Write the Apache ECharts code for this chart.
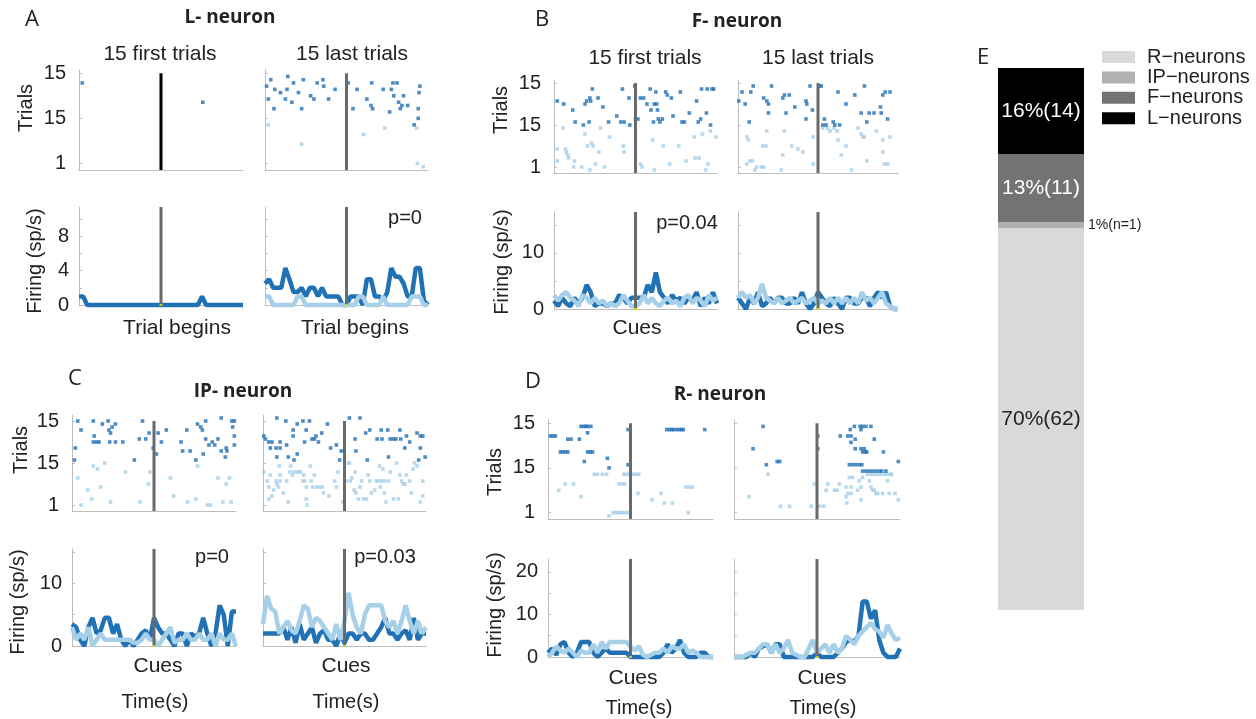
<!DOCTYPE html>
<html>
<head>
<meta charset="utf-8">
<title>Neuron classes</title>
<script src="https://cdn.jsdelivr.net/npm/echarts@6/dist/echarts.min.js"></script>
<style>
html, body { margin: 0; padding: 0; background: #fff; }
#main { width: 1256px; height: 719px; }
</style>
</head>
<body>
<div id="main"></div>
<script>
// bin centres (s) of the firing-rate curves, event at 0
const binTimes = [-1.00, -0.95, -0.90, -0.85, -0.80, -0.75, -0.70, -0.65, -0.60, -0.55,
  -0.50, -0.45, -0.40, -0.35, -0.30, -0.25, -0.20, -0.15, -0.10, -0.05,
  0.00, 0.05, 0.10, 0.15, 0.20, 0.25, 0.30, 0.35, 0.40, 0.45,
  0.50, 0.55, 0.60, 0.65, 0.70, 0.75, 0.80, 0.85, 0.90, 0.95, 1.00];

// raster tick labels (as printed in the figure)
const rasterTicks = [1, 15, 29];
const rasterTickLabels = ['1', '15', '15'];

// ---- L- neuron (A) ----
const rasterA1Dark = [[-0.96, 26], [0.51, 20]];
const rasterA1Light = [];
const rasterA2Dark = [[-0.98, 25], [-0.93, 27], [-0.96, 21], [-0.88, 24], [-0.89, 18], [-0.81, 23], [-0.75, 21], [-0.73, 24], [-0.72, 28], [-0.67, 20],
  [-0.65, 26], [-0.59, 23], [-0.55, 18], [-0.53, 27], [-0.44, 22], [-0.40, 21], [-0.36, 26], [-0.29, 27], [-0.28, 25], [-0.22, 21],
  [-0.14, 24], [0.02, 26], [0.08, 18], [0.13, 24], [0.25, 21], [0.30, 19], [0.31, 26], [0.32, 18], [0.45, 24], [0.53, 17],
  [0.55, 24], [0.57, 26], [0.58, 22], [0.62, 26], [0.64, 20], [0.66, 18], [0.68, 19], [0.70, 22], [0.75, 19], [0.83, 13],
  [0.88, 15], [0.88, 18], [0.89, 23], [0.90, 25]];
const rasterA2Light = [[-0.96, 13], [-0.55, 7], [0.21, 10], [0.47, 12], [0.86, 12], [0.87, 1], [0.94, 0]];
const rateA1Dark = [1, 1, 0, 0, 0, 0, 0, 0, 0, 0, 0, 0, 0, 0, 0, 0, 0, 0, 0, 0,
  0, 0, 0, 0, 0, 0, 0, 0, 0, 0, 1, 0, 0, 0, 0, 0, 0, 0, 0, 0, 0];
const rateA1Light = [];
const rateA2Dark = [2.5, 3.0, 2.0, 2.0, 2.0, 4.3, 3.0, 1.5, 1.5, 2.0, 1.0, 2.0, 2.0, 1.0, 2.0, 1.0, 1.0, 1.0, 1.0, 0,
  0, 1.0, 1.0, 1.0, 0, 3.0, 3.0, 1.0, 1.0, 0.5, 1.5, 4.3, 3.3, 3.3, 2.5, 1.0, 1.0, 4.3, 4.3, 0.5, 0];
const rateA2Light = [1, 1, 0, 0, 0, 0, 0, 0, 1, 1, 0, 0, 0, 0, 0, 0, 0, 0, 0, 0,
  0, 0, 0, 1, 1, 0, 0, 0, 0, 1, 0, 0, 0, 0, 0, 0, 1, 1, 1, 0, 0];

// ---- F- neuron (B) ----
const rasterB1Dark = [[-0.96, 23], [-0.88, 22], [-0.77, 20], [-0.74, 16], [-0.64, 15], [-0.62, 22], [-0.60, 23], [-0.56, 24], [-0.55, 23], [-0.53, 27],
  [-0.46, 24], [-0.57, 16], [-0.40, 21], [-0.33, 16], [-0.23, 18], [-0.18, 16], [-0.16, 27], [-0.14, 16], [-0.08, 24], [-0.07, 15],
  [-0.01, 28], [0.00, 17], [0.03, 17], [0.06, 24], [0.10, 24], [0.14, 22], [0.18, 27], [0.19, 20], [0.22, 16], [0.23, 22],
  [0.25, 26], [0.26, 22], [0.27, 20], [0.28, 17], [0.30, 16], [0.33, 17], [0.37, 26], [0.39, 25], [0.44, 24], [0.46, 18],
  [0.55, 26], [0.57, 16], [0.60, 16], [0.66, 19], [0.75, 23], [0.77, 16], [0.80, 17], [0.81, 27], [0.87, 19], [0.88, 27],
  [0.92, 15], [0.94, 27], [0.96, 27]];
const rasterB1Light = [[-0.96, 7], [-0.96, 3], [-0.89, 14], [-0.86, 7], [-0.85, 6], [-0.83, 5], [-0.82, 4], [-0.75, 3], [-0.76, 1], [-0.66, 1],
  [-0.62, 12], [-0.59, 8], [-0.54, 9], [-0.52, 8], [-0.49, 2], [-0.56, 0], [-0.45, 6], [-0.43, 14], [-0.38, 1], [-0.32, 11],
  [-0.15, 8], [-0.14, 6], [0.06, 2], [0.08, 1], [0.21, 10], [0.23, 0], [0.34, 8], [0.42, 2], [0.53, 8], [0.62, 3],
  [0.72, 11], [0.73, 4], [0.78, 4], [0.82, 12], [0.86, 0], [0.89, 2], [0.99, 11], [0.92, 13]];
const rasterB2Dark = [[-0.99, 23], [-0.95, 26], [-0.91, 22], [-0.86, 16], [-0.84, 26], [-0.81, 28], [-0.68, 24], [-0.64, 23], [-0.62, 22], [-0.62, 19],
  [-0.58, 28], [-0.44, 24], [-0.42, 25], [-0.36, 25], [-0.29, 21], [-0.40, 19], [-0.15, 23], [-0.14, 22], [-0.15, 17], [-0.10, 28],
  [-0.07, 20], [0.02, 28], [0.04, 28], [0.06, 15], [0.08, 17], [0.10, 15], [0.19, 16], [0.21, 15], [0.27, 15], [0.25, 26],
  [0.35, 22], [0.46, 25], [0.54, 19], [0.58, 28], [0.61, 16], [0.64, 19], [0.70, 19], [0.78, 21], [0.79, 19], [0.81, 25],
  [0.84, 26], [0.87, 17], [0.90, 26]];
const rasterB2Light = [[-0.89, 11], [-0.87, 10], [-0.89, 2], [-0.85, 3], [-0.82, 3], [-0.77, 1], [-0.79, 0], [-0.71, 1], [-0.68, 1], [-0.69, 8],
  [-0.65, 8], [-0.64, 13], [-0.46, 0], [-0.44, 5], [-0.42, 13], [-0.33, 8], [-0.25, 7], [-0.19, 6], [-0.06, 11], [-0.06, 2],
  [0.06, 14], [0.12, 14], [0.15, 13], [0.20, 14], [0.24, 13], [0.25, 10], [0.29, 5], [0.35, 8], [0.42, 0], [0.50, 14],
  [0.54, 12], [0.56, 11], [0.58, 11], [0.61, 3], [0.73, 13], [0.81, 10], [0.81, 6], [0.83, 2], [0.87, 2], [0.90, 11]];
const rateB1Dark = [1.5, 0.5, 2.0, 1.0, 0.5, 2.0, 1.0, 2.0, 4.3, 3.0, 0.5, 1.0, 1.0, 0.5, 1.0, 1.0, 2.5, 2.0, 1.0, 2.0,
  2.0, 2.0, 2.0, 4.3, 3.0, 6.5, 3.0, 2.0, 1.0, 2.5, 1.5, 2.0, 1.0, 2.0, 1.5, 3.0, 0.5, 2.0, 1.0, 3.0, 1.0];
const rateB1Light = [2.5, 1.5, 2.5, 3.0, 2.0, 1.5, 0.5, 2.5, 2.0, 1.0, 2.0, 1.0, 1.5, 0.5, 1.0, 0.5, 1.0, 2.5, 1.5, 0.5,
  0.5, 1.0, 2.5, 1.0, 2.0, 1.0, 0.5, 1.5, 2.0, 1.0, 1.5, 0.5, 2.0, 2.5, 1.0, 2.0, 1.5, 0.5, 2.5, 1.5, 2.0];
const rateB2Dark = [2.0, 1.0, 0.0, 2.0, 1.0, 3.0, 0.5, 1.0, 2.0, 1.0, 2.0, 2.0, 1.0, 1.0, 2.0, 1.0, 3.0, 1.0, 0.0, 1.0,
  3.0, 2.0, 1.0, 0.5, 2.0, 1.0, 0.0, 2.0, 2.0, 1.0, 1.0, 2.0, 2.0, 0.5, 2.0, 3.0, 2.0, 3.0, 0.5, 0.0, 0.0];
const rateB2Light = [2.0, 3.0, 2.0, 2.5, 1.0, 2.0, 4.5, 2.0, 1.5, 1.0, 2.0, 1.0, 1.5, 2.0, 1.0, 1.5, 2.0, 1.0, 1.5, 2.0,
  1.0, 1.5, 1.0, 2.0, 1.0, 2.0, 1.0, 2.0, 1.0, 2.0, 1.0, 3.0, 1.5, 2.0, 1.0, 2.0, 3.0, 1.0, 0.5, 0.0, 0.0];

// ---- IP- neuron (C) ----
const rasterC1Dark = [[-0.97, 16], [-0.96, 20], [-0.93, 29], [-0.89, 26], [-0.74, 29], [-0.73, 24], [-0.74, 22], [-0.70, 22], [-0.67, 22], [-0.63, 28],
  [-0.56, 29], [-0.55, 26], [-0.53, 25], [-0.51, 27], [-0.47, 28], [-0.54, 22], [-0.47, 22], [-0.38, 22], [-0.24, 16], [-0.18, 23],
  [-0.14, 29], [-0.10, 23], [-0.06, 25], [-0.01, 20], [0.03, 18], [0.05, 25], [0.09, 22], [0.15, 26], [0.33, 22], [0.35, 19],
  [0.40, 26], [0.44, 19], [0.51, 16], [0.53, 28], [0.57, 27], [0.59, 26], [0.60, 18], [0.63, 29], [0.63, 23], [0.67, 21],
  [0.71, 22], [0.74, 21], [0.78, 23], [0.82, 19], [0.82, 30], [0.87, 17], [0.88, 20], [0.89, 19], [0.95, 29], [0.98, 29],
  [0.96, 27], [0.98, 24], [0.98, 21]];
const rasterC1Light = [[-0.93, 10], [-0.89, 1], [-0.81, 6], [-0.76, 3], [-0.74, 14], [-0.69, 13], [-0.65, 7], [-0.60, 15], [-0.53, 2], [-0.35, 12],
  [-0.17, 2], [-0.07, 8], [-0.05, 12], [0.20, 10], [0.24, 4], [0.41, 2], [0.51, 3], [0.53, 14], [0.65, 1], [0.69, 1],
  [0.78, 10], [0.84, 2], [0.88, 8], [0.94, 2], [0.92, 10]];
const rasterC2Dark = [[-0.99, 24], [-0.97, 23], [-0.93, 22], [-0.91, 20], [-0.89, 22], [-0.84, 20], [-0.83, 30], [-0.83, 17], [-0.79, 20], [-0.79, 22],
  [-0.72, 29], [-0.71, 21], [-0.69, 17], [-0.63, 24], [-0.63, 26], [-0.62, 16], [-0.58, 28], [-0.58, 18], [-0.51, 29], [-0.49, 22],
  [-0.47, 26], [-0.43, 29], [-0.40, 23], [-0.37, 23], [-0.35, 24], [-0.32, 22], [-0.28, 25], [-0.21, 28], [-0.17, 20], [-0.10, 21],
  [-0.06, 16], [-0.04, 19], [0.06, 30], [0.19, 30], [0.13, 23], [0.14, 19], [0.26, 25], [0.28, 16], [0.31, 26], [0.40, 23],
  [0.45, 26], [0.46, 23], [0.53, 26], [0.54, 17], [0.56, 23], [0.60, 23], [0.63, 23], [0.68, 26], [0.69, 23], [0.74, 20],
  [0.76, 24], [0.80, 22], [0.89, 25], [0.93, 24], [0.96, 24], [0.93, 20], [0.91, 16], [0.99, 17]];
const rasterC2Light = [[-0.99, 12], [-0.95, 9], [-0.93, 7], [-0.91, 11], [-0.93, 3], [-0.89, 4], [-0.87, 6], [-0.84, 9], [-0.83, 8], [-0.81, 7],
  [-0.80, 14], [-0.79, 11], [-0.79, 9], [-0.75, 5], [-0.71, 9], [-0.69, 2], [-0.67, 12], [-0.66, 14], [-0.64, 11], [-0.62, 12],
  [-0.58, 12], [-0.56, 12], [-0.54, 12], [-0.51, 9], [-0.50, 11], [-0.49, 9], [-0.47, 7], [-0.47, 3], [-0.46, 1], [-0.42, 14],
  [-0.41, 9], [-0.39, 7], [-0.37, 11], [-0.34, 7], [-0.31, 7], [-0.27, 7], [-0.26, 5], [-0.19, 4], [-0.12, 9], [-0.10, 7],
  [-0.08, 12], [-0.02, 2], [0.02, 9], [0.05, 15], [0.06, 15], [0.07, 9], [0.09, 10], [0.12, 6], [0.13, 12], [0.14, 5],
  [0.17, 3], [0.19, 7], [0.21, 9], [0.23, 3], [0.27, 3], [0.29, 11], [0.31, 9], [0.33, 5], [0.37, 6], [0.39, 9],
  [0.41, 9], [0.43, 14], [0.44, 7], [0.45, 9], [0.47, 13], [0.49, 5], [0.49, 9], [0.51, 2], [0.54, 9], [0.56, 12],
  [0.60, 3], [0.64, 15], [0.66, 3], [0.68, 11], [0.70, 9], [0.72, 8], [0.74, 8], [0.76, 11], [0.80, 9], [0.82, 5],
  [0.84, 13], [0.86, 15], [0.89, 14], [0.93, 2], [0.96, 9], [0.96, 4]];
const rateC1Dark = [3.5, 3.0, 1.0, 0.0, 3.0, 4.5, 2.0, 2.5, 4.5, 4.5, 2.0, 3.5, 1.0, 0.0, 1.0, 0.0, 1.0, 2.0, 2.5, 1.0,
  4.5, 3.0, 2.0, 2.0, 1.0, 0.0, 2.0, 2.0, 0.0, 2.0, 1.5, 2.0, 4.5, 2.0, 0.0, 2.0, 6.5, 5.0, 0.0, 5.5, 5.5];
const rateC1Light = [3.0, 1.0, 2.0, 1.0, 3.0, 0.0, 1.0, 2.0, 1.0, 1.0, 1.0, 1.0, 1.0, 1.0, 1.0, 0.5, 0.5, 1.0, 2.0, 1.0,
  1.0, 0.0, 1.0, 2.0, 3.0, 0.5, 1.0, 1.0, 2.0, 1.0, 1.0, 2.0, 1.0, 1.0, 2.0, 0.0, 2.0, 1.0, 1.0, 2.0, 0.0];
const rateC2Dark = [2.0, 2.0, 2.0, 2.0, 2.0, 3.0, 1.0, 3.0, 0.5, 3.5, 1.0, 2.0, 3.0, 0.5, 2.0, 2.5, 1.0, 1.0, 0.0, 2.0,
  0.5, 2.0, 2.0, 1.0, 2.0, 2.0, 1.0, 1.0, 2.0, 3.0, 4.5, 2.0, 2.0, 1.0, 2.0, 2.5, 1.0, 4.5, 1.0, 2.0, 2.0];
const rateC2Light = [3.5, 8.0, 6.0, 5.5, 2.0, 3.0, 4.0, 2.5, 2.0, 4.0, 6.5, 6.0, 3.0, 4.5, 4.0, 3.0, 2.0, 1.0, 3.5, 1.0,
  4.0, 8.5, 5.0, 3.0, 2.0, 5.0, 6.5, 6.5, 6.5, 6.5, 4.0, 3.0, 4.0, 2.0, 4.0, 6.5, 4.0, 2.0, 4.0, 2.0, 3.0];

// ---- R- neuron (D) ----
const rasterD1Dark = [[-0.97, 25], [-0.94, 25], [-0.91, 25], [-0.60, 28], [-0.57, 28], [-0.54, 28], [-0.52, 28], [-0.48, 28], [-0.52, 26], [-0.76, 24],
  [-0.72, 24], [-0.62, 24], [-0.85, 20], [-0.82, 20], [-0.79, 20], [-0.76, 20], [-0.52, 20], [-0.49, 20], [-0.46, 20], [-0.56, 17],
  [-0.28, 18], [-0.26, 15], [-0.03, 27], [-0.03, 16], [0.44, 27], [0.47, 27], [0.50, 27], [0.52, 27], [0.56, 27], [0.59, 27],
  [0.62, 27], [0.64, 27], [0.90, 27]];
const rasterD1Light = [[-0.44, 13], [-0.40, 13], [-0.34, 13], [-0.29, 13], [-0.08, 13], [-0.05, 13], [-0.02, 13], [0.01, 13], [0.04, 13], [0.07, 13],
  [0.10, 13], [-0.79, 10], [-0.69, 10], [-0.14, 10], [-0.10, 10], [-0.07, 10], [-0.87, 8], [0.09, 7], [-0.60, 6], [0.37, 7],
  [0.26, 5], [0.41, 4], [0.51, 4], [0.67, 9], [0.71, 9], [0.75, 9], [0.70, 1], [-0.26, 0], [-0.21, 1], [-0.18, 1],
  [-0.15, 1], [-0.12, 1], [-0.09, 1], [-0.06, 1], [-0.03, 1]];
const rasterD2Dark = [[-0.65, 28], [-0.77, 21], [-0.61, 16], [-0.48, 17], [-0.45, 17], [0.01, 25], [0.01, 21], [0.28, 25], [0.37, 25], [0.41, 25],
  [0.40, 27], [0.41, 23], [0.45, 28], [0.46, 24], [0.46, 21], [0.52, 28], [0.55, 28], [0.59, 28], [0.53, 27], [0.65, 28],
  [0.53, 21], [0.55, 20], [0.58, 20], [0.60, 20], [0.57, 21], [0.69, 24], [0.80, 20], [0.39, 16], [0.43, 16], [0.47, 16],
  [0.51, 16], [0.54, 16], [0.55, 14], [0.59, 14], [0.63, 14], [0.67, 14], [0.71, 14], [0.75, 14], [0.78, 14], [0.83, 14],
  [0.98, 17]];
const rasterD2Light = [[-0.82, 6], [-0.59, 13], [-0.44, 3], [-0.33, 3], [-0.07, 3], [0.03, 3], [0.08, 3], [-0.03, 10], [0.13, 10], [0.11, 8],
  [0.21, 8], [0.24, 8], [0.27, 10], [0.35, 9], [0.35, 6], [0.36, 4], [0.39, 12], [0.41, 9], [0.43, 12], [0.49, 8],
  [0.51, 11], [0.53, 9], [0.53, 5], [0.55, 12], [0.61, 13], [0.63, 11], [0.65, 9], [0.67, 8], [0.69, 8], [0.71, 7],
  [0.73, 7], [0.79, 7], [0.85, 11], [0.87, 7], [0.90, 13], [0.94, 7], [0.98, 5], [0.65, 13], [0.69, 13], [0.73, 13],
  [0.77, 13], [0.81, 13], [0.85, 13], [0.89, 13], [0.37, 7], [0.41, 7]];
const rateD1Dark = [1.0, 2.0, 0.5, 3.0, 3.5, 1.0, 0.0, 1.0, 3.5, 3.5, 3.5, 1.0, 0.0, 1.0, 2.0, 1.0, 1.0, 1.0, 1.0, 1.0,
  0.0, 0.0, 0.0, 0.0, 0.0, 0.0, 0.0, 0.0, 1.0, 3.0, 1.0, 2.0, 4.0, 1.0, 0.0, 0.0, 0.0, 1.0, 1.0, 0.0, 0.0];
const rateD1Light = [0.0, 1.0, 2.5, 1.5, 1.0, 2.0, 1.0, 0.0, 1.5, 1.0, 1.0, 3.0, 1.0, 3.5, 2.0, 3.5, 3.5, 3.5, 3.5, 3.5,
  2.5, 1.5, 2.5, 0.5, 0.0, 0.5, 1.0, 1.0, 2.0, 1.0, 2.5, 2.0, 2.0, 3.0, 1.0, 1.5, 1.0, 0.0, 0.0, 0.0, 0.0];
const rateD2Dark = [0, 0, 0, 0, 1.0, 0.0, 2.0, 2.5, 3.0, 1.0, 3.0, 3.0, 0, 0, 0, 0, 0, 0, 0, 0,
  1.0, 0, 0, 0, 0, 1.0, 2.0, 3.5, 4.0, 3.5, 5.0, 13.0, 13.0, 9.0, 11.0, 4.0, 1.0, 0, 0, 0, 2.0];
const rateD2Light = [0, 0, 0, 0.5, 1.0, 1.0, 2.0, 3.0, 3.0, 1.0, 3.0, 1.0, 2.0, 4.0, 1.0, 0.5, 0, 0, 2.0, 4.0,
  1.0, 2.0, 3.0, 1.0, 3.0, 1.0, 2.0, 5.0, 4.0, 3.0, 5.0, 6.0, 7.0, 8.0, 6.5, 6.0, 4.5, 7.5, 5.5, 4.0, 4.5];

// ---- E: proportion of neuron classes ----
const neuronTypes = ['R\u2212neurons', 'IP\u2212neurons', 'F\u2212neurons', 'L\u2212neurons'];
const neuronCounts = [62, 1, 11, 14];
const neuronLabels = ['70%(62)', '1%(n=1)', '13%(11)', '16%(14)'];
const neuronColors = ['#d9d9d9', '#b1b1b1', '#737373', '#000000'];

const DARK = '#2171b5';
const LIGHT = '#a6cfe8';
const STIM = '#6a6a6a';
const AXIS = '#bdbdbd';
const INK = '#222';
const FONT = '"Liberation Sans", Arial, sans-serif';
const HEAD = '"Open Sans", sans-serif';

var grids = [], xAxes = [], yAxes = [], series = [];

function addAxes(box, yMin, yMax, labelVals, tickVals, showLabels, fontSize, margin) {
  var i = grids.length;
  grids.push({ left: box[0], top: box[1], width: box[2], height: box[3] });
  xAxes.push({
    gridIndex: i, type: 'value', min: -1, max: 1,
    axisLine: { show: true, onZero: false, lineStyle: { color: AXIS, width: 1 } },
    axisTick: { show: false }, axisLabel: { show: false }, splitLine: { show: false }
  });
  yAxes.push({
    gridIndex: i, type: 'value', min: yMin, max: yMax,
    axisLine: { show: true, onZero: false, lineStyle: { color: AXIS, width: 1 } },
    axisTick: { show: true, inside: true, length: 3, customValues: tickVals, lineStyle: { color: AXIS } },
    axisLabel: {
      show: showLabels, customValues: labelVals, color: INK, fontSize: fontSize, fontFamily: FONT, margin: margin,
      formatter: function (v) {
        var k = labelVals.indexOf(v);
        return labelVals === rasterTicks ? rasterTickLabels[k] : String(v);
      }
    },
    splitLine: { show: false }
  });
  return i;
}

function addRaster(box, yMin, yMax, dark, light, showLabels, stimColor) {
  var i = addAxes(box, yMin, yMax, rasterTicks, rasterTicks, showLabels, 20, 13);
  series.push({ type: 'scatter', xAxisIndex: i, yAxisIndex: i, data: light, symbol: 'rect', symbolSize: 3.6, itemStyle: { color: LIGHT }, silent: true });
  series.push({ type: 'scatter', xAxisIndex: i, yAxisIndex: i, data: dark, symbol: 'rect', symbolSize: 3.6, itemStyle: { color: DARK }, silent: true });
  series.push({ type: 'line', xAxisIndex: i, yAxisIndex: i, data: [[0, yMin], [0, 29]], symbol: 'none', lineStyle: { color: stimColor, width: 3 }, silent: true, z: 5 });
}

function addRate(box, yMax, labelVals, tickVals, dark, light, showLabels) {
  var i = addAxes(box, 0, yMax, labelVals, tickVals, showLabels, 20, 10);
  series.push({ type: 'line', xAxisIndex: i, yAxisIndex: i, data: dark.map(function (v, k) { return [binTimes[k], v]; }),
    symbol: 'none', clip: false, lineStyle: { color: DARK, width: 4.5 }, silent: true });
  series.push({ type: 'line', xAxisIndex: i, yAxisIndex: i, data: light.map(function (v, k) { return [binTimes[k], v]; }),
    symbol: 'none', clip: false, lineStyle: { color: LIGHT, width: 4.5 }, silent: true });
  series.push({ type: 'line', xAxisIndex: i, yAxisIndex: i, data: [[0, 0], [0, yMax]], symbol: 'none', clip: false,
    lineStyle: { color: STIM, width: 3 }, silent: true, z: 5 });
  series.push({ type: 'scatter', xAxisIndex: i, yAxisIndex: i, data: [[0, 0]], symbol: 'rect', symbolSize: [3, 2],
    itemStyle: { color: '#e6e000' }, silent: true, z: 6 });
}

// A
addRaster([79, 70, 164, 100], -1, 30, rasterA1Dark, rasterA1Light, true, '#000');
addRaster([265, 70, 163, 100], -1, 30, rasterA2Dark, rasterA2Light, false, STIM);
addRate([79, 207, 164, 98], 11.4, [0, 4, 8], [0, 2, 4, 6, 8, 10], rateA1Dark, rateA1Light, true);
addRate([265, 207, 163, 98], 11.4, [0, 4, 8], [0, 2, 4, 6, 8, 10], rateA2Dark, rateA2Light, false);
// B
addRaster([554, 80, 163, 93], -1, 30, rasterB1Dark, rasterB1Light, true, STIM);
addRaster([738, 80, 160, 93], -1, 30, rasterB2Dark, rasterB2Light, false, STIM);
addRate([554, 212, 163, 97], 17.3, [0, 10], [0, 5, 10, 15], rateB1Dark, rateB1Light, true);
addRate([738, 212, 160, 97], 17.3, [0, 10], [0, 5, 10, 15], rateB2Dark, rateB2Light, false);
// C
addRaster([72, 415, 164, 96], -1, 31, rasterC1Dark, rasterC1Light, true, STIM);
addRaster([263, 415, 163, 96], -1, 31, rasterC2Dark, rasterC2Light, false, STIM);
addRate([72, 549, 164, 97], 15.5, [0, 10], [0, 5, 10, 15], rateC1Dark, rateC1Light, true);
addRate([263, 549, 163, 97], 15.5, [0, 10], [0, 5, 10, 15], rateC2Dark, rateC2Light, false);
// D
addRaster([548, 420, 165, 99], -1, 30, rasterD1Dark, rasterD1Light, true, STIM);
addRaster([734, 420, 166, 99], -1, 30, rasterD2Dark, rasterD2Light, false, STIM);
addRate([548, 559, 165, 98], 23, [0, 10, 20], [0, 5, 10, 15, 20], rateD1Dark, rateD1Light, true);
addRate([734, 559, 166, 98], 23, [0, 10, 20], [0, 5, 10, 15, 20], rateD2Dark, rateD2Light, false);

// E stacked bar
var barIdx = grids.length;
grids.push({ left: 998, top: 68, width: 86, height: 542 });
xAxes.push({ gridIndex: barIdx, type: 'category', data: ['all'], show: false });
yAxes.push({ gridIndex: barIdx, type: 'value', min: 0, max: 88, show: false });
neuronTypes.forEach(function (name, k) {
  var small = k === 1;
  series.push({
    name: name, type: 'bar', stack: 'all', xAxisIndex: barIdx, yAxisIndex: barIdx, barWidth: 86,
    data: [neuronCounts[k]], itemStyle: { color: neuronColors[k] }, silent: true,
    label: {
      show: true, position: small ? 'right' : 'inside', distance: 4, formatter: neuronLabels[k],
      fontFamily: FONT, fontSize: small ? 14 : 21, color: (k >= 2) ? '#fff' : INK
    }
  });
});

function txt(s, x, y, size, opts) {
  opts = opts || {};
  return {
    type: 'text', x: x, y: y, rotation: opts.rot || 0, silent: true,
    style: { text: s, fontSize: size, fontFamily: opts.family || FONT, fontWeight: opts.weight || 'normal',
      fill: INK, align: 'center', verticalAlign: 'middle' }
  };
}
var up = { rot: Math.PI / 2 };
var letter = { family: HEAD };
var bold = { family: HEAD, weight: 'bold' };

var texts = [
  txt('A', 32, 20, 22, letter), txt('B', 542, 20, 22, letter), txt('C', 75, 379, 22, letter),
  txt('D', 533, 382, 22, letter), txt('E', 983, 58, 22, letter),
  txt('L- neuron', 230, 18, 19, bold), txt('F- neuron', 737, 22, 19, bold),
  txt('IP- neuron', 243, 392, 19, bold), txt('R- neuron', 720, 395, 19, bold),
  txt('15 first trials', 160, 54, 21), txt('15 last trials', 352, 54, 21),
  txt('15 first trials', 645, 58, 21), txt('15 last trials', 818, 58, 21),
  txt('Trials', 26, 108, 20, up), txt('Trials', 501, 110, 20, up),
  txt('Trials', 21, 450, 20, up), txt('Trials', 495, 472, 20, up),
  txt('Firing (sp/s)', 35, 261, 20, up), txt('Firing (sp/s)', 502, 262, 20, up),
  txt('Firing (sp/s)', 18, 602, 20, up), txt('Firing (sp/s)', 495, 605, 20, up),
  txt('Trial begins', 177, 328, 21), txt('Trial begins', 355, 328, 21),
  txt('Cues', 637, 328, 21), txt('Cues', 820, 328, 21),
  txt('Cues', 158, 666, 21), txt('Cues', 346, 666, 21),
  txt('Cues', 633, 678, 21), txt('Cues', 822, 678, 21),
  txt('Time(s)', 155, 702, 20), txt('Time(s)', 346, 702, 20),
  txt('Time(s)', 639, 708, 20), txt('Time(s)', 823, 708, 20),
  txt('p=0', 405, 218, 20), txt('p=0.04', 687, 223, 20),
  txt('p=0', 212, 557, 20), txt('p=0.03', 385, 557, 20)
];

var chart = echarts.init(document.getElementById('main'));
chart.setOption({
  animation: false,
  backgroundColor: '#fff',
  grid: grids,
  xAxis: xAxes,
  yAxis: yAxes,
  legend: {
    data: neuronTypes, orient: 'vertical', left: 1097, top: 42, icon: 'rect',
    itemWidth: 33, itemHeight: 12, itemGap: 0.4, selectedMode: false,
    textStyle: { fontFamily: FONT, fontSize: 20, lineHeight: 18, color: INK, padding: [0, 0, 0, 7] }
  },
  graphic: texts,
  series: series
});
</script>
</body>
</html>
